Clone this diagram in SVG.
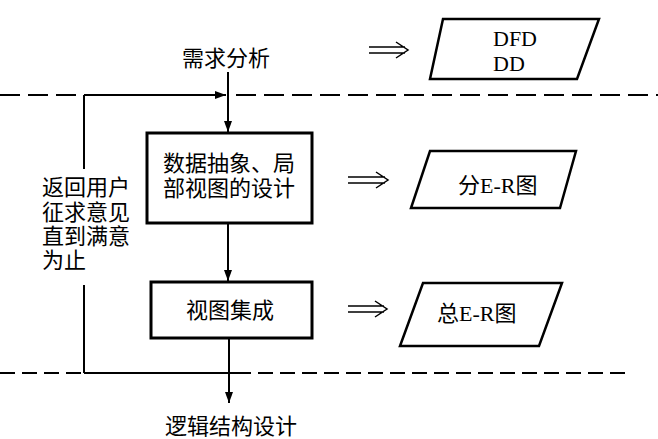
<svg xmlns="http://www.w3.org/2000/svg" width="658" height="439" viewBox="0 0 658 439">
<style>
.cjk{font-family:"Liberation Serif","Noto Sans CJK SC",serif;font-size:22px;fill:#000}
.lat{font-family:"Liberation Serif","Noto Sans CJK SC",serif;font-size:22px;fill:#000}
.box{fill:#fff;stroke:#000;stroke-width:3}
.para{fill:#fff;stroke:#000;stroke-width:2.5;stroke-linejoin:miter}
.ln{stroke:#000;stroke-width:2;fill:none}
.dash{stroke:#000;stroke-width:2;fill:none;stroke-dasharray:20 8}
.dash2{stroke:#000;stroke-width:2;fill:none;stroke-dasharray:15 7}
.dbl{stroke:#000;stroke-width:1.5;fill:none}
</style>
<defs>
<marker id="ah" markerUnits="userSpaceOnUse" markerWidth="11" markerHeight="8" refX="11" refY="4" orient="auto">
<path d="M0,0 L11,4 L0,8 z" fill="#000"/>
</marker>
</defs>
<g id="boundaries">
<line class="dash" x1="0" y1="95" x2="84" y2="95"/>
<line class="dash" x1="236" y1="95" x2="658" y2="95"/>
<line class="dash2" x1="0" y1="373" x2="84" y2="373"/>
<line class="dash2" x1="236" y1="373" x2="625" y2="373"/>
</g>
<g id="connectors">
<line class="ln" x1="228" y1="72" x2="228" y2="132" marker-end="url(#ah)"/>
<line class="ln" x1="84" y1="95" x2="226" y2="95" marker-end="url(#ah)"/>
<line class="ln" x1="84" y1="95" x2="84" y2="169"/>
<line class="ln" x1="84" y1="285" x2="84" y2="373"/>
<line class="ln" x1="84" y1="373" x2="236" y2="373"/>
<line class="ln" x1="228" y1="224" x2="228" y2="281" marker-end="url(#ah)"/>
<line class="ln" x1="229" y1="339" x2="229" y2="403" marker-end="url(#ah)"/>
<path class="dbl" d="M369,47 H405 M369,53 H405 M396,42 L408,50 L396,58"/>
<path class="dbl" d="M348,177 H385 M348,183 H385 M376,172 L388,180 L376,188"/>
<path class="dbl" d="M348,306 H384 M348,312 H384 M375,301 L387,309 L375,317"/>
</g>
<g id="n-req">
<text class="cjk" x="226" y="66" text-anchor="middle">需求分析</text>
</g>
<g id="n-abstract">
<rect class="box" x="147" y="133" width="165" height="90"/>
<text class="cjk" x="163" y="171">数据抽象、局</text>
<text class="cjk" x="163" y="196">部视图的设计</text>
</g>
<g id="n-integrate">
<rect class="box" x="151" y="282" width="161" height="56"/>
<text class="cjk" x="230" y="318" text-anchor="middle">视图集成</text>
</g>
<g id="n-logic">
<text class="cjk" x="231" y="434" text-anchor="middle">逻辑结构设计</text>
</g>
<g id="n-feedback">
<text class="cjk" x="42" y="195">返回用户</text>
<text class="cjk" x="42" y="219.5">征求意见</text>
<text class="cjk" x="42" y="244">直到满意</text>
<text class="cjk" x="42" y="268">为止</text>
</g>
<g id="n-dfd">
<polygon class="para" points="443,19 599,19 577,79 430,79"/>
<text class="lat" x="493" y="46">DFD</text>
<text class="lat" x="493" y="71">DD</text>
</g>
<g id="n-sub-er">
<polygon class="para" points="430,151 576,151 560,208 411,208"/>
<text class="cjk" x="458" y="193">分E-R图</text>
</g>
<g id="n-total-er">
<polygon class="para" points="423,283 562,283 539,346 400,346"/>
<text class="cjk" x="437" y="321">总E-R图</text>
</g>
</svg>
